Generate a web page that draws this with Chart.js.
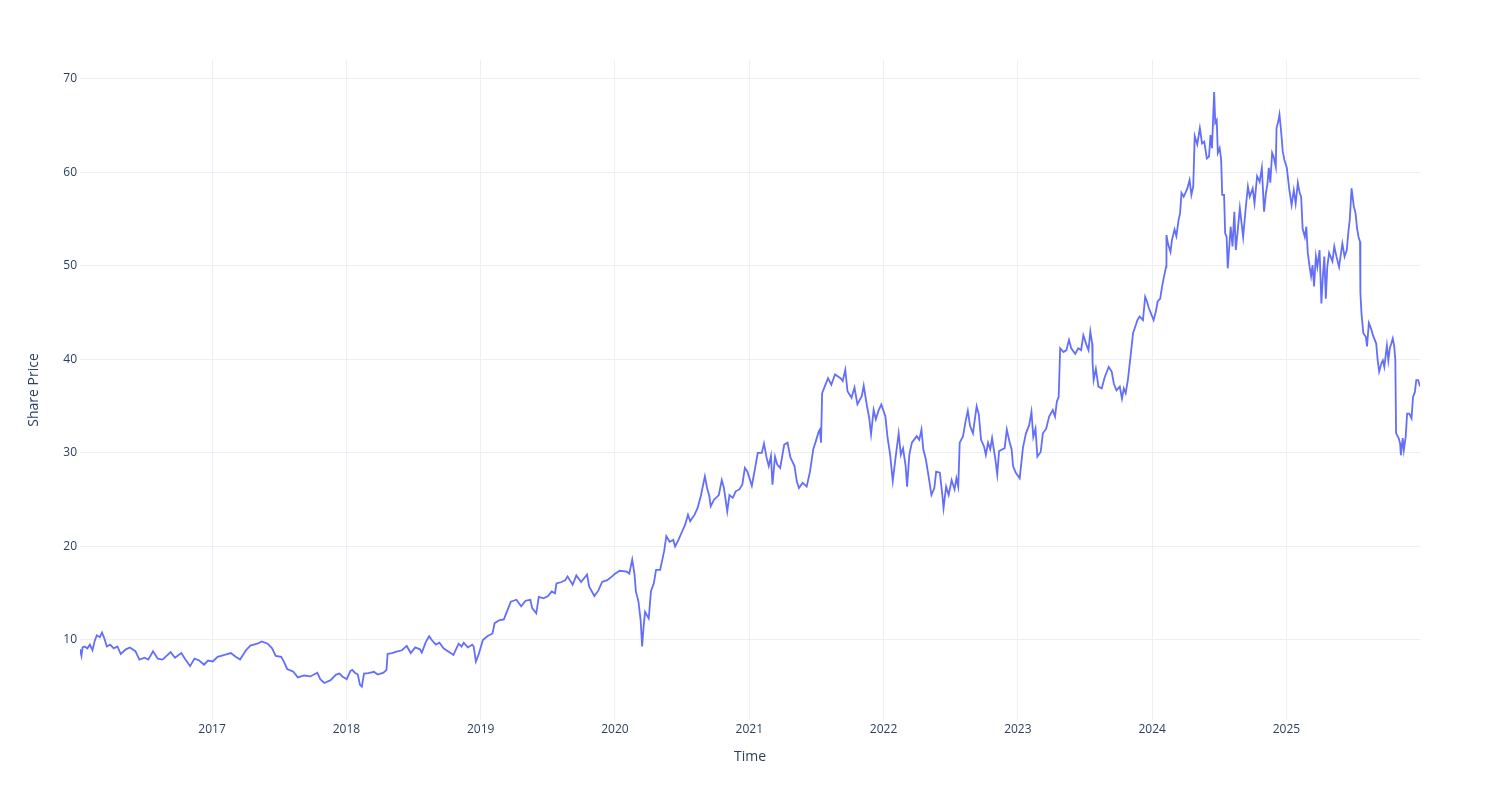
<!DOCTYPE html>
<html>
<head>
<meta charset="utf-8">
<title>Share Price</title>
<script src="https://cdn.jsdelivr.net/npm/chart.js@4"></script>
<style>
  html, body { margin: 0; padding: 0; background: #fff; }
  #wrap { width: 1500px; height: 800px; }
</style>
</head>
<body>
<div id="wrap"><canvas id="priceChart" width="1500" height="800"></canvas></div>
<script>
// dates and closing prices
const dates = [
  "2016-01-07","2016-01-11","2016-01-14","2016-01-20","2016-01-27","2016-02-03","2016-02-10","2016-02-16","2016-02-22","2016-03-01",
  "2016-03-07","2016-03-13","2016-03-20","2016-03-29","2016-04-08","2016-04-18","2016-04-27","2016-05-11","2016-05-22","2016-06-06",
  "2016-06-17","2016-07-01","2016-07-11","2016-07-24","2016-08-06","2016-08-19","2016-08-27","2016-09-10","2016-09-22","2016-10-09",
  "2016-10-19","2016-11-02","2016-11-14","2016-11-27","2016-12-10","2016-12-21","2017-01-03","2017-01-16","2017-02-04","2017-02-21",
  "2017-03-06","2017-03-18","2017-04-03","2017-04-15","2017-05-04","2017-05-16","2017-06-01","2017-06-13","2017-06-23","2017-07-08",
  "2017-07-16","2017-07-24","2017-08-10","2017-08-22","2017-09-08","2017-09-25","2017-10-14","2017-10-22","2017-11-02","2017-11-19",
  "2017-12-04","2017-12-13","2017-12-21","2018-01-02","2018-01-12","2018-01-17","2018-01-24","2018-02-01","2018-02-07","2018-02-12",
  "2018-02-18","2018-03-02","2018-03-17","2018-03-27","2018-04-12","2018-04-20","2018-04-23","2018-05-05","2018-05-17","2018-06-01",
  "2018-06-14","2018-06-25","2018-07-07","2018-07-20","2018-07-25","2018-08-05","2018-08-14","2018-08-21","2018-09-01","2018-09-11",
  "2018-09-22","2018-10-06","2018-10-19","2018-11-02","2018-11-10","2018-11-16","2018-11-27","2018-12-09","2018-12-13","2018-12-19",
  "2018-12-26","2019-01-07","2019-01-19","2019-02-02","2019-02-08","2019-02-20","2019-03-05","2019-03-13","2019-03-24","2019-04-08",
  "2019-04-21","2019-05-03","2019-05-16","2019-05-21","2019-06-01","2019-06-08","2019-06-21","2019-07-03","2019-07-13","2019-07-22",
  "2019-07-26","2019-08-09","2019-08-19","2019-08-25","2019-09-08","2019-09-18","2019-10-01","2019-10-09","2019-10-17","2019-10-23",
  "2019-11-06","2019-11-17","2019-11-27","2019-12-11","2019-12-24","2020-01-02","2020-01-14","2020-02-02","2020-02-09","2020-02-17",
  "2020-02-23","2020-02-27","2020-03-05","2020-03-11","2020-03-15","2020-03-19","2020-03-23","2020-04-02","2020-04-08","2020-04-16",
  "2020-04-22","2020-05-03","2020-05-08","2020-05-14","2020-05-20","2020-05-29","2020-06-08","2020-06-13","2020-06-22","2020-07-02",
  "2020-07-10","2020-07-18","2020-07-24","2020-08-05","2020-08-13","2020-08-22","2020-09-02","2020-09-08","2020-09-14","2020-09-18",
  "2020-09-27","2020-10-10","2020-10-18","2020-10-24","2020-11-02","2020-11-08","2020-11-17","2020-11-25","2020-12-05","2020-12-13",
  "2020-12-20","2020-12-27","2021-01-08","2021-01-16","2021-01-24","2021-02-04","2021-02-10","2021-02-17","2021-02-23","2021-03-01",
  "2021-03-05","2021-03-12","2021-03-18","2021-03-26","2021-04-06","2021-04-15","2021-04-23","2021-05-04","2021-05-10","2021-05-16",
  "2021-05-26","2021-06-06","2021-06-15","2021-06-24","2021-07-02","2021-07-09","2021-07-12","2021-07-15","2021-07-18","2021-07-25",
  "2021-08-03","2021-08-12","2021-08-22","2021-09-06","2021-09-12","2021-09-19","2021-09-25","2021-10-06","2021-10-14","2021-10-22",
  "2021-11-03","2021-11-08","2021-11-17","2021-11-23","2021-11-28","2021-12-05","2021-12-11","2021-12-18","2021-12-26","2022-01-06",
  "2022-01-12","2022-01-19","2022-01-26","2022-02-02","2022-02-11","2022-02-17","2022-02-23","2022-03-02","2022-03-06","2022-03-12",
  "2022-03-19","2022-04-01","2022-04-08","2022-04-14","2022-04-19","2022-04-26","2022-05-05","2022-05-11","2022-05-19","2022-05-24",
  "2022-06-03","2022-06-10","2022-06-13","2022-06-20","2022-06-27","2022-07-05","2022-07-13","2022-07-18","2022-07-23","2022-07-27",
  "2022-08-05","2022-08-12","2022-08-18","2022-08-24","2022-09-01","2022-09-04","2022-09-11","2022-09-17","2022-09-23","2022-10-01",
  "2022-10-06","2022-10-12","2022-10-18","2022-10-23","2022-11-01","2022-11-06","2022-11-11","2022-11-20","2022-11-26","2022-12-02",
  "2022-12-09","2022-12-15","2022-12-19","2022-12-26","2023-01-06","2023-01-15","2023-01-23","2023-02-01","2023-02-07","2023-02-12",
  "2023-02-18","2023-02-23","2023-03-04","2023-03-10","2023-03-19","2023-03-27","2023-04-06","2023-04-12","2023-04-17","2023-04-22",
  "2023-04-26","2023-05-05","2023-05-13","2023-05-20","2023-05-26","2023-06-06","2023-06-14","2023-06-22","2023-06-28","2023-07-07",
  "2023-07-12","2023-07-17","2023-07-22","2023-07-23","2023-07-26","2023-08-01","2023-08-08","2023-08-17","2023-08-25","2023-09-05",
  "2023-09-13","2023-09-19","2023-09-26","2023-10-05","2023-10-11","2023-10-16","2023-10-21","2023-10-27","2023-11-04","2023-11-10",
  "2023-11-16","2023-11-22","2023-11-28","2023-12-07","2023-12-13","2023-12-18","2023-12-23","2024-01-05","2024-01-11","2024-01-16",
  "2024-01-23","2024-01-28","2024-02-03","2024-02-08","2024-02-09","2024-02-13","2024-02-20","2024-02-24","2024-03-02","2024-03-07",
  "2024-03-13","2024-03-17","2024-03-21","2024-03-27","2024-04-06","2024-04-12","2024-04-17","2024-04-22","2024-04-26","2024-05-03",
  "2024-05-10","2024-05-16","2024-05-22","2024-05-29","2024-06-04","2024-06-08","2024-06-12","2024-06-15","2024-06-18","2024-06-21",
  "2024-06-25","2024-06-28","2024-07-03","2024-07-07","2024-07-10","2024-07-15","2024-07-18","2024-07-22","2024-07-25","2024-08-02",
  "2024-08-07","2024-08-12","2024-08-16","2024-08-21","2024-08-27","2024-09-05","2024-09-12","2024-09-18","2024-09-23","2024-10-01",
  "2024-10-06","2024-10-13","2024-10-20","2024-10-26","2024-11-01","2024-11-06","2024-11-10","2024-11-14","2024-11-18","2024-11-23",
  "2024-11-27","2024-12-03","2024-12-05","2024-12-10","2024-12-13","2024-12-17","2024-12-22","2024-12-26","2025-01-02","2025-01-09",
  "2025-01-15","2025-01-21","2025-01-26","2025-02-01","2025-02-06","2025-02-10","2025-02-14","2025-02-20","2025-02-24","2025-02-28",
  "2025-03-05","2025-03-09","2025-03-13","2025-03-17","2025-03-22","2025-03-26","2025-04-01","2025-04-06","2025-04-10","2025-04-14",
  "2025-04-18","2025-04-22","2025-04-27","2025-05-06","2025-05-11","2025-05-17","2025-05-24","2025-06-02","2025-06-08","2025-06-14",
  "2025-06-19","2025-06-22","2025-06-27","2025-07-03","2025-07-08","2025-07-12","2025-07-16","2025-07-20","2025-07-21","2025-07-24",
  "2025-07-29","2025-08-05","2025-08-08","2025-08-13","2025-08-19","2025-08-24","2025-09-02","2025-09-06","2025-09-10","2025-09-16",
  "2025-09-20","2025-09-24","2025-10-01","2025-10-05","2025-10-09","2025-10-13","2025-10-17","2025-10-21","2025-10-24","2025-10-26",
  "2025-11-02","2025-11-06","2025-11-08","2025-11-13","2025-11-16","2025-11-21","2025-11-25","2025-12-01","2025-12-07","2025-12-11",
  "2025-12-16","2025-12-20","2025-12-25","2025-12-30"
];

const prices = [
  9.0, 8.3, 9.2, 9.3, 9.1, 9.5, 8.9, 9.9, 10.5, 10.3,
  10.8, 10.2, 9.3, 9.5, 9.1, 9.3, 8.5, 9.0, 9.2, 8.8,
  7.9, 8.1, 7.9, 8.8, 8.0, 7.9, 8.2, 8.7, 8.1, 8.6,
  8.0, 7.2, 8.0, 7.8, 7.35, 7.8, 7.7, 8.2, 8.4, 8.6,
  8.2, 7.9, 8.9, 9.4, 9.6, 9.85, 9.6, 9.1, 8.3, 8.2,
  7.6, 6.9, 6.6, 6.0, 6.2, 6.1, 6.5, 5.8, 5.4, 5.7,
  6.3, 6.4, 6.1, 5.8, 6.7, 6.8, 6.5, 6.3, 5.2, 5.0,
  6.4, 6.45, 6.6, 6.3, 6.5, 6.8, 8.5, 8.6, 8.75, 8.9,
  9.36, 8.6, 9.2, 9.0, 8.65, 9.8, 10.4, 10.0, 9.5, 9.7,
  9.1, 8.75, 8.4, 9.6, 9.3, 9.7, 9.2, 9.5, 9.3, 7.7,
  8.4, 10.0, 10.4, 10.7, 11.8, 12.1, 12.2, 13.0, 14.1, 14.3,
  13.6, 14.2, 14.3, 13.4, 12.85, 14.6, 14.45, 14.7, 15.2, 15.0,
  16.05, 16.2, 16.4, 16.8, 15.9, 16.9, 16.2, 16.6, 17.0, 15.7,
  14.7, 15.3, 16.2, 16.4, 16.8, 17.1, 17.4, 17.3, 17.1, 18.6,
  17.1, 15.2, 14.1, 12.1, 9.3, 11.4, 13.0, 12.3, 15.2, 16.1,
  17.5, 17.5, 18.4, 19.5, 21.1, 20.5, 20.7, 20.0, 20.7, 21.6,
  22.3, 23.4, 22.7, 23.4, 24.1, 25.4, 27.5, 26.25, 25.4, 24.3,
  25.0, 25.5, 27.1, 26.25, 23.75, 25.5, 25.2, 25.9, 26.1, 26.6,
  28.4, 28.0, 26.5, 28.2, 30.0, 30.0, 31.0, 29.5, 28.6, 29.7,
  26.6, 29.6, 28.75, 28.4, 30.9, 31.1, 29.5, 28.6, 27.0, 26.25,
  26.8, 26.4, 28.0, 30.4, 31.4, 32.3, 32.5, 31.1, 36.4, 37.1,
  38.0, 37.3, 38.4, 38.0, 37.7, 38.9, 36.6, 35.9, 37.0, 35.2,
  36.1, 37.2, 35.0, 33.75, 32.0, 34.6, 33.6, 34.5, 35.2, 33.9,
  31.6, 29.8, 27.0, 29.3, 32.1, 29.8, 30.5, 28.6, 26.4, 29.8,
  31.1, 31.8, 31.4, 32.5, 30.4, 29.3, 27.1, 25.5, 26.25, 28.0,
  27.9, 25.4, 24.1, 26.4, 25.5, 27.1, 26.1, 27.3, 26.4, 31.1,
  31.8, 33.4, 34.5, 32.9, 32.1, 33.0, 35.0, 34.1, 31.4, 30.7,
  29.8, 31.1, 30.4, 31.6, 29.3, 27.7, 30.2, 30.4, 30.5, 32.5,
  31.25, 30.4, 28.6, 27.9, 27.3, 30.6, 32.1, 33.0, 34.4, 31.7,
  32.6, 29.6, 30.1, 32.1, 32.6, 33.9, 34.6, 33.9, 35.5, 36.0,
  41.2, 40.8, 41.0, 42.1, 41.2, 40.6, 41.2, 41.0, 42.6, 41.5,
  41.0, 43.0, 41.7, 39.75, 37.8, 39.0, 37.1, 36.9, 38.1, 39.2,
  38.7, 37.4, 36.7, 37.1, 35.8, 36.9, 36.4, 37.8, 40.6, 42.8,
  43.5, 44.2, 44.6, 44.2, 46.7, 46.2, 45.5, 44.2, 45.1, 46.2,
  46.5, 47.8, 49.0, 49.9, 53.3, 52.4, 51.5, 52.8, 53.9, 53.2,
  54.9, 55.6, 57.8, 57.4, 58.3, 59.2, 57.6, 58.5, 63.9, 63.0,
  64.75, 63.1, 63.3, 61.5, 61.7, 64.0, 62.6, 65.6, 68.6, 65.3,
  65.6, 62.1, 62.6, 61.4, 57.6, 57.6, 53.5, 53.1, 49.75, 54.2,
  52.1, 55.8, 51.7, 53.7, 56.2, 53.1, 56.2, 58.5, 57.4, 58.3,
  56.7, 59.6, 59.0, 60.5, 55.8, 57.8, 58.7, 60.5, 58.9, 62.1,
  61.7, 60.6, 64.75, 65.5, 66.2, 64.6, 62.25, 61.4, 60.5, 58.1,
  56.5, 58.1, 56.7, 58.9, 57.8, 57.4, 54.0, 53.1, 54.2, 51.4,
  49.9, 48.9, 50.1, 47.8, 51.0, 49.9, 51.7, 46.0, 48.9, 51.0,
  46.5, 49.9, 51.4, 50.5, 52.1, 51.0, 49.9, 52.4, 51.0, 51.7,
  53.9, 54.9, 58.3, 56.4, 55.6, 54.0, 53.1, 52.6, 47.1, 44.9,
  42.8, 42.4, 41.4, 43.9, 43.3, 42.6, 41.7, 39.9, 38.7, 39.6,
  39.9, 39.2, 41.5, 39.9, 41.2, 41.7, 42.25, 41.4, 39.9, 32.1,
  31.6, 31.0, 29.75, 31.6, 30.3, 31.7, 34.2, 34.2, 33.7, 36.0,
  36.5, 37.8, 37.8, 37.1
];

const yearTicks = [2017, 2018, 2019, 2020, 2021, 2022, 2023, 2024, 2025];
const priceTicks = [10, 20, 30, 40, 50, 60, 70];

// date string -> fractional year, so a linear axis can be used
function toYear(s) {
  const [y, m, d] = s.split('-').map(Number);
  const start = Date.UTC(y, 0, 1);
  const end = Date.UTC(y + 1, 0, 1);
  return y + (Date.UTC(y, m - 1, d) - start) / (end - start);
}

const points = dates.map((d, i) => ({ x: toYear(d), y: prices[i] }));

const tickFont = { family: "'Open Sans', 'DejaVu Sans', sans-serif", size: 12 };
const titleFont = { family: "'Open Sans', 'DejaVu Sans', sans-serif", size: 14 };
const textColor = '#2a3f5f';
const gridColor = '#ebf0f8';

const config = {
  type: 'line',
  data: {
    datasets: [{
      label: 'Share Price',
      data: points,
      borderColor: '#636efa',
      borderWidth: 1.8,
      pointRadius: 0,
      tension: 0,
      fill: false
    }]
  },
  options: {
    responsive: false,
    animation: false,
    layout: { padding: { left: 0, right: 80, top: 60, bottom: 0 } },
    plugins: {
      legend: { display: false },
      tooltip: { enabled: false }
    },
    scales: {
      x: {
        type: 'linear',
        min: points[0].x,
        max: points[points.length - 1].x,
        afterBuildTicks: (scale) => { scale.ticks = yearTicks.map(v => ({ value: v })); },
        afterFit: (scale) => { scale.height = 80; },
        grid: { color: gridColor, drawTicks: false },
        border: { display: false },
        ticks: {
          font: tickFont,
          color: textColor,
          padding: 2,
          maxRotation: 0,
          callback: (v) => String(v)
        },
        title: {
          display: true,
          text: 'Time',
          font: titleFont,
          color: textColor,
          padding: { top: 0, bottom: 35 }
        }
      },
      y: {
        min: 1.44,
        max: 72.03,
        afterBuildTicks: (scale) => { scale.ticks = priceTicks.map(v => ({ value: v })); },
        afterFit: (scale) => { scale.width = 80; },
        grid: { color: gridColor, drawTicks: false },
        border: { display: false },
        ticks: {
          font: tickFont,
          color: textColor,
          padding: 3,
          callback: (v) => String(v)
        },
        title: {
          display: true,
          text: 'Share Price',
          font: titleFont,
          color: textColor,
          padding: { top: 26, bottom: 0 }
        }
      }
    }
  }
};

const priceChart = new Chart(document.getElementById('priceChart'), config);
</script>
</body>
</html>
